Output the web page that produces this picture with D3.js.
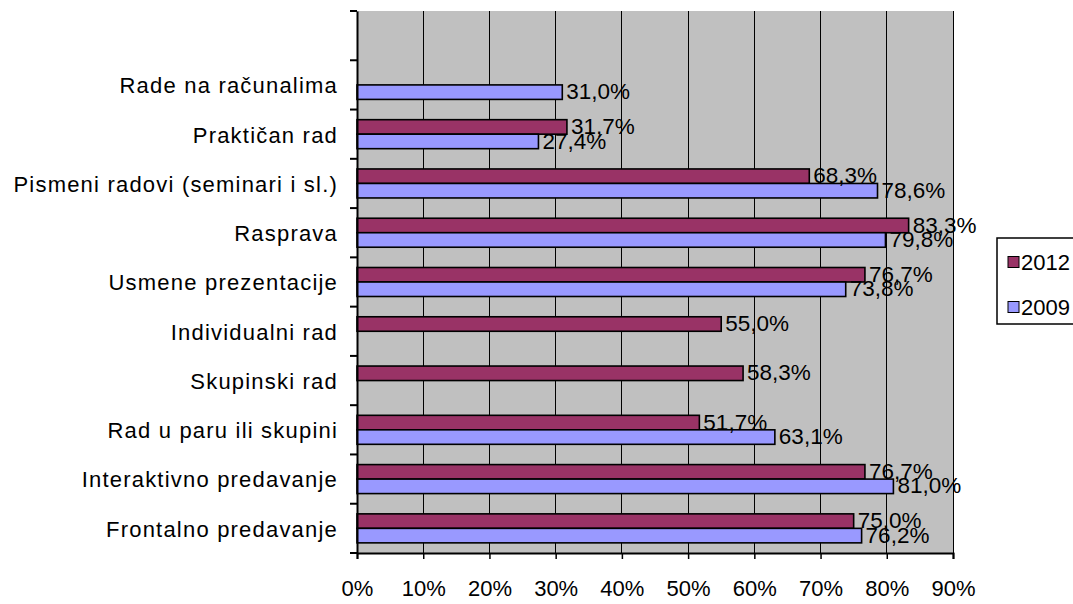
<!DOCTYPE html>
<html>
<head>
<meta charset="utf-8">
<script src="https://cdn.jsdelivr.net/npm/d3@7"></script>
<style>
  html, body { margin: 0; padding: 0; background: #fff; }
  svg text { font-family: "Liberation Sans", Arial, sans-serif; fill: #000; }
</style>
</head>
<body>
<svg id="chart" width="1073" height="604"></svg>
<script>
// ---- data ----
const categories = ["", "Rade na računalima", "Praktičan rad", "Pismeni radovi (seminari i sl.)", "Rasprava",
  "Usmene prezentacije", "Individualni rad", "Skupinski rad", "Rad u paru ili skupini",
  "Interaktivno predavanje", "Frontalno predavanje"];
const seriesNames = ["2012", "2009"];
const values2012 = [null, null, 31.7, 68.3, 83.3, 76.7, 55.0, 58.3, 51.7, 76.7, 75.0];
const values2009 = [null, 31.0, 27.4, 78.6, 79.8, 73.8, null, null, 63.1, 81.0, 76.2];
const xTicks = [0, 10, 20, 30, 40, 50, 60, 70, 80, 90];
const colors = { "2012": "#993366", "2009": "#9999FF" };

(function () {
const svg = d3.select("#chart");
const pL = 357, pR = 953, pT = 11, pB = 553;

const x = d3.scaleLinear().domain([0, 90]).range([pL, pR]);
const y = d3.scaleBand().domain(categories).range([pT, pB]).padding(0);
const barH = 14.5;
const y1 = d3.scaleBand().domain(seriesNames)
  .range([(y.bandwidth() - 2 * barH) / 2, (y.bandwidth() + 2 * barH) / 2]).padding(0);

// plot area
svg.append("rect").attr("x", pL).attr("y", pT).attr("width", pR - pL).attr("height", pB - pT)
  .attr("fill", "#C0C0C0");

// gridlines
svg.append("g").selectAll("line").data(xTicks.filter(d => d > 0)).join("line")
  .attr("x1", d => x(d)).attr("x2", d => x(d)).attr("y1", pT).attr("y2", pB)
  .attr("stroke", "#000").attr("stroke-width", 1).attr("shape-rendering", "crispEdges");

// bars
const rows = [];
categories.forEach((c, i) => {
  rows.push({ cat: c, s: "2012", v: values2012[i] });
  rows.push({ cat: c, s: "2009", v: values2009[i] });
});
const valid = rows.filter(d => d.v != null);

svg.append("g").selectAll("rect").data(valid).join("rect")
  .attr("x", x(0))
  .attr("y", d => y(d.cat) + y1(d.s))
  .attr("width", d => x(d.v) - x(0))
  .attr("height", y1.bandwidth())
  .attr("fill", d => colors[d.s])
  .attr("stroke", "#000").attr("stroke-width", 1.6);

// value labels
const fmt = v => v.toFixed(1).replace(".", ",") + "%";
svg.append("g").selectAll("text").data(valid).join("text")
  .attr("x", d => x(d.v) + 4)
  .attr("y", d => y(d.cat) + y1(d.s) + y1.bandwidth() / 2 - 1)
  .attr("dy", "0.36em")
  .attr("font-size", 22.5)
  .text(d => fmt(d.v));

// x axis
const xAxis = svg.append("g").attr("transform", `translate(0,${pB})`)
  .call(d3.axisBottom(x).tickValues(xTicks).tickFormat(d => d + "%").tickSize(6).tickPadding(30));
xAxis.select(".domain").attr("stroke", "#000").attr("stroke-width", 2);
xAxis.selectAll(".tick line").attr("stroke", "#000").attr("stroke-width", 1.5);
xAxis.selectAll(".tick text").attr("font-size", 22).attr("font-family", "Liberation Sans, Arial, sans-serif")
  .attr("dy", "0.3em");

// y axis: labels
const yAxis = svg.append("g").attr("transform", `translate(${pL},0)`)
  .call(d3.axisLeft(y).tickSize(0).tickPadding(19));
yAxis.select(".domain").attr("stroke", "#000").attr("stroke-width", 2);
yAxis.selectAll(".tick text").attr("font-size", 22).attr("letter-spacing", "1.2px")
  .attr("font-family", "Liberation Sans, Arial, sans-serif").attr("dy", "0.38em");

// y axis boundary ticks
const bounds = categories.map(c => y(c)).concat([pB]);
svg.append("g").selectAll("line").data(bounds).join("line")
  .attr("x1", pL - 7).attr("x2", pL).attr("y1", d => d).attr("y2", d => d)
  .attr("stroke", "#000").attr("stroke-width", 2);

// legend
const lg = svg.append("g").attr("transform", "translate(997,238)");
lg.append("rect").attr("x", 0).attr("y", 0).attr("width", 90).attr("height", 86)
  .attr("fill", "#fff").attr("stroke", "#000").attr("stroke-width", 1.5);
seriesNames.forEach((s, i) => {
  const yy = 24 + i * 45;
  lg.append("rect").attr("x", 11).attr("y", yy - 5.5).attr("width", 11).attr("height", 11)
    .attr("fill", colors[s]).attr("stroke", "#000").attr("stroke-width", 1);
  lg.append("text").attr("x", 24).attr("y", yy).attr("dy", "0.36em")
    .attr("font-size", 22).text(s);
});
})();
</script>
</body>
</html>
